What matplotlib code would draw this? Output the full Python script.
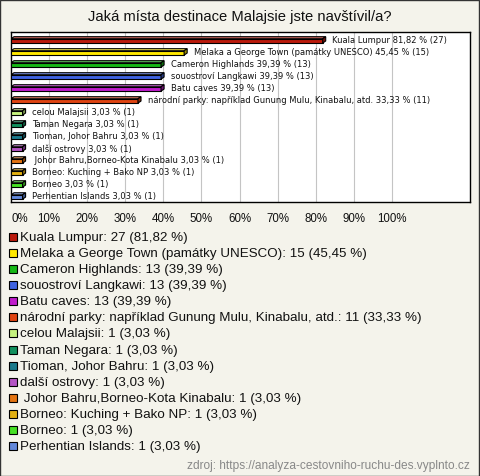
import matplotlib
matplotlib.use("Agg")
import matplotlib.pyplot as plt
from matplotlib.patches import Rectangle, Polygon
from matplotlib.colors import to_rgb

# ── Data ───────────────────────────────────────────────────────────────────────

TITLE = "Jaká místa destinace Malajsie jste navštívil/a?"
SOURCE = "zdroj: https://analyza-cestovniho-ruchu-des.vyplnto.cz"

labels = [
    "Kuala Lumpur",
    "Melaka a George Town (památky UNESCO)",
    "Cameron Highlands",
    "souostroví Langkawi",
    "Batu caves",
    "národní parky: například Gunung Mulu, Kinabalu, atd.",
    "celou Malajsii",
    "Taman Negara",
    "Tioman, Johor Bahru",
    "další ostrovy",
    " Johor Bahru,Borneo-Kota Kinabalu",
    "Borneo: Kuching + Bako NP",
    "Borneo",
    "Perhentian Islands",
]
counts = [27, 15, 13, 13, 13, 11, 1, 1, 1, 1, 1, 1, 1, 1]
percents = [81.82, 45.45, 39.39, 39.39, 39.39, 33.33,
            3.03, 3.03, 3.03, 3.03, 3.03, 3.03, 3.03, 3.03]
colors = ["#bb1a0c", "#ffe800", "#16b816", "#3f62e0", "#c01ccc", "#e04412",
          "#c6f27e", "#12905e", "#1b7a8c", "#b454c4", "#e47412", "#e2b012",
          "#46e024", "#6288da"]
xticks = [0, 10, 20, 30, 40, 50, 60, 70, 80, 90, 100]

BG = "#f4f3eb"


def fmt(v):
    return f"{v:.2f}".replace(".", ",")


def shade(c, f):
    r, g, b = to_rgb(c)
    if f > 1:
        return (r + (1 - r) * (f - 1), g + (1 - g) * (f - 1), b + (1 - b) * (f - 1))
    return (r * f, g * f, b * f)


fig = plt.figure(figsize=(4.8, 4.77), dpi=100, facecolor=BG)
fig.patches.append(Rectangle((0.001, 0.001), 0.997, 0.997, transform=fig.transFigure,
                             fill=False, edgecolor="#333333", linewidth=1.0))

fig.text(0.5, 1 - 17 / 477, TITLE, ha="center", va="center",
         fontsize=10.6, family="Liberation Sans", color="#111111")

# ── Bar chart ──────────────────────────────────────────────────────────────────

ax = fig.add_axes([11 / 480, 1 - 203 / 477, 459 / 480, 170 / 477])
ax.set_facecolor("white")
ax.set_xlim(0, 120.5)
ax.set_ylim(13.5, -0.66)
for s in ax.spines.values():
    s.set_color("black")
    s.set_linewidth(1.0)
for t in xticks[1:]:
    ax.axvline(t, color="#c4c4c4", linewidth=0.8, zorder=0)

h = 0.36
dx, dy = 0.8, 0.17
for i, (lab, c, p, n) in enumerate(zip(labels, colors, percents, counts)):
    top = i - h / 2 + 0.08
    ax.add_patch(Rectangle((0, top), p, h, facecolor=c, edgecolor="black",
                           linewidth=0.8, zorder=3))
    ax.add_patch(Polygon([(0, top), (p, top), (p + dx, top - dy), (dx, top - dy)],
                         facecolor=shade(c, 1.35), edgecolor="black",
                         linewidth=0.8, zorder=3))
    ax.add_patch(Polygon([(p, top), (p + dx, top - dy), (p + dx, top + h - dy), (p, top + h)],
                         facecolor=shade(c, 0.6), edgecolor="black",
                         linewidth=0.8, zorder=3))
    ax.annotate(f"{lab} {fmt(p)} % ({n})", (p, i), xytext=(7, 0),
                textcoords="offset points", va="center", ha="left",
                fontsize=6.0, family="DejaVu Sans", color="#111111")

ax.set_yticks([])
ax.set_xticks(xticks)
ax.set_xticklabels([f"{t}%" for t in xticks], fontsize=8.3,
                   family="Liberation Sans", color="#111111")
ax.tick_params(axis="x", length=0, pad=7)
ax.get_xticklabels()[0].set_ha("left")

# ── Legend ─────────────────────────────────────────────────────────────────────

for i, (lab, c, p, n) in enumerate(zip(labels, colors, percents, counts)):
    yc = 238.3 + i * 16.03
    fig.patches.append(Rectangle((9 / 480, 1 - (yc + 4) / 477), 8 / 480, 8 / 477,
                                 transform=fig.transFigure, facecolor=c,
                                 edgecolor="black", linewidth=0.8))
    fig.text(20 / 480, 1 - yc / 477, f"{lab}: {n} ({fmt(p)} %)", ha="left",
             va="center", fontsize=9.6, family="Liberation Sans", color="#111111")

fig.text(470 / 480, 1 - 466 / 477, SOURCE, ha="right", va="center",
         fontsize=8.6, family="Liberation Sans", color="#888888")

fig.savefig("out.png", dpi=100, facecolor=BG)
